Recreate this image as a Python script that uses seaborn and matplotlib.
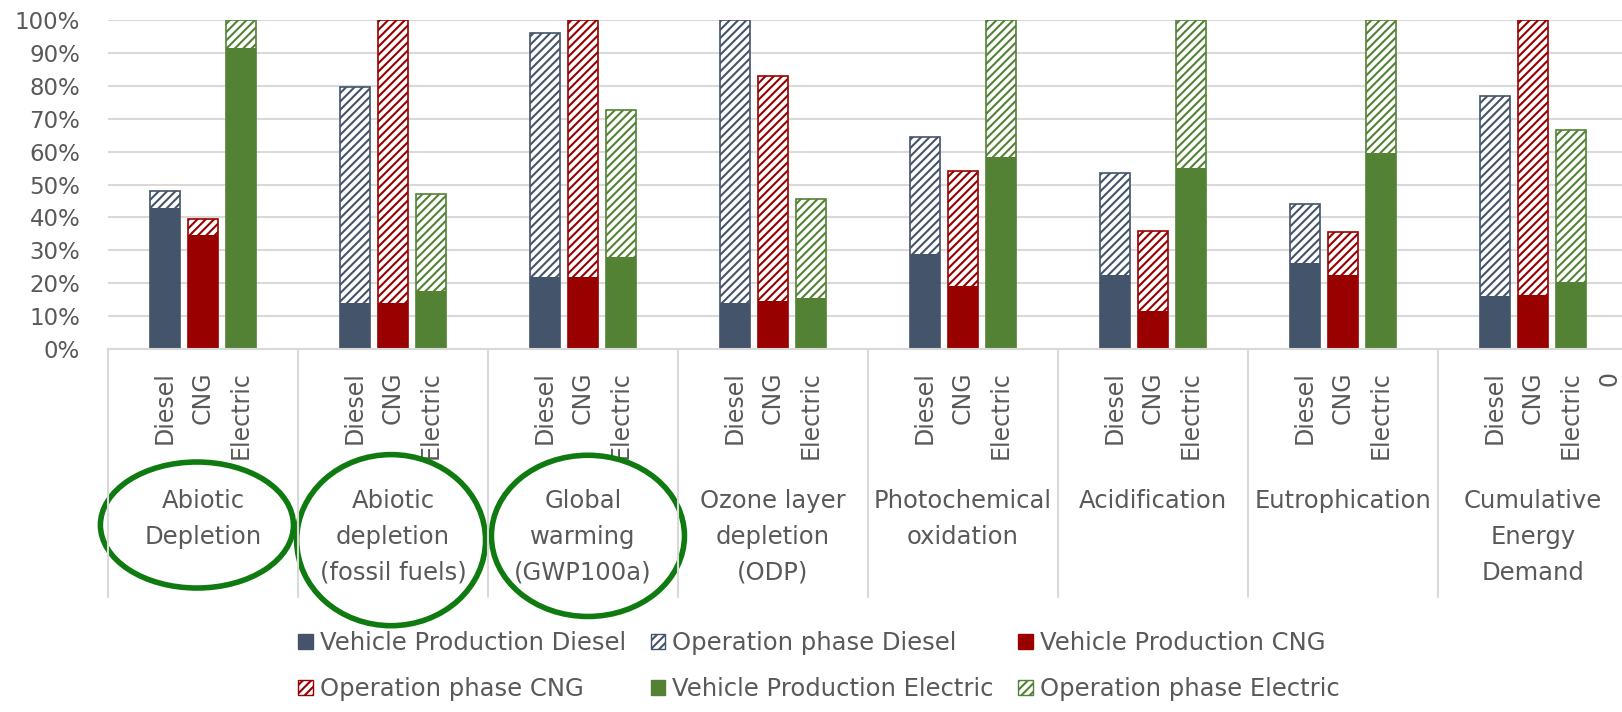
import pandas as pd
import matplotlib.pyplot as plt
import matplotlib.transforms as mtransforms
import seaborn as sns
from matplotlib.patches import Patch, Ellipse
from matplotlib.ticker import PercentFormatter

# impact categories (group labels) and vehicle types
impacts = ["Abiotic\nDepletion", "Abiotic\ndepletion\n(fossil fuels)", "Global\nwarming\n(GWP100a)",
           "Ozone layer\ndepletion\n(ODP)", "Photochemical\noxidation", "Acidification",
           "Eutrophication", "Cumulative\nEnergy\nDemand"]
vehicles = ["Diesel", "CNG", "Electric"]

# values in % of the highest vehicle per category
prod_diesel = [43, 14, 22, 14, 29, 22.5, 26, 16]
oper_diesel = [5, 65.5, 74, 86, 35.5, 31, 18, 61]
prod_cng = [34.5, 14, 22, 14.5, 19, 11.5, 22.5, 16.5]
oper_cng = [5, 86, 78, 68.5, 35, 24.5, 13, 83.5]
prod_elec = [91.5, 17.5, 28, 15.5, 58.5, 55, 59.5, 20.5]
oper_elec = [8.5, 29.5, 44.5, 30, 41.5, 45, 40.5, 46]

y_ticks = [0, 10, 20, 30, 40, 50, 60, 70, 80, 90, 100]

colors = {"Diesel": "#44546A", "CNG": "#990000", "Electric": "#548235"}
text_col = "#595959"

prod = {"Diesel": prod_diesel, "CNG": prod_cng, "Electric": prod_elec}
oper = {"Diesel": oper_diesel, "CNG": oper_cng, "Electric": oper_elec}

# each group takes 5 slots: blank, Diesel, CNG, Electric, blank
rows = []
for i, imp in enumerate(impacts):
    for j, v in enumerate(vehicles):
        rows.append({"pos": 5 * i + 1 + j, "vehicle": v,
                     "production": prod[v][i],
                     "total": prod[v][i] + oper[v][i]})
df = pd.DataFrame(rows)

sns.set_style("white")
plt.rcParams['font.family'] = ['DejaVu Sans']
plt.rcParams['hatch.linewidth'] = 1.5

fig = plt.figure(figsize=(16.22, 7.12), dpi=100)
ax = fig.add_axes([108 / 1622, 1 - 349 / 712, 1 - 108 / 1622, 329 / 712])

# operation phase = hatched part, drawn as full-height bar first
sns.barplot(data=df, x="pos", y="total", hue="vehicle", palette=colors, dodge=False,
            native_scale=True, width=0.79, errorbar=None, legend=False, saturation=1, ax=ax)
for p in ax.patches:
    c = p.get_facecolor()
    p.set_edgecolor(c)
    p.set_facecolor("white")
    p.set_hatch("////")
    p.set_linewidth(1.2)
n_hatch = len(ax.patches)

# vehicle production part on top
sns.barplot(data=df, x="pos", y="production", hue="vehicle", palette=colors, dodge=False,
            native_scale=True, width=0.79, errorbar=None, legend=False, saturation=1, ax=ax)
for p in ax.patches[n_hatch:]:
    p.set_linewidth(0)

ax.set_xlim(-0.5, (1622 - 108) / 38 - 0.5)
ax.set_ylim(0, 100)
ax.set_yticks(y_ticks)
ax.yaxis.set_major_formatter(PercentFormatter(decimals=0))
ax.yaxis.grid(True, color="#D9D9D9", lw=1.5)
ax.set_axisbelow(True)
for s in ["top", "right", "left"]:
    ax.spines[s].set_visible(False)
ax.spines["bottom"].set_color("#D9D9D9")
ax.spines["bottom"].set_linewidth(1.5)

xt = list(df["pos"]) + [5 * len(impacts) - 1]
xl = list(df["vehicle"]) + ["0"]
ax.set_xticks(xt)
ax.set_xticklabels(xl, rotation=90)
ax.tick_params(axis="x", length=0, pad=16, labelsize=17, labelcolor=text_col)
ax.tick_params(axis="y", length=0, pad=20, labelsize=16.5, labelcolor=text_col)
ax.set_xlabel("")
ax.set_ylabel("")

trans = mtransforms.blended_transform_factory(ax.transData, ax.transAxes)
for i, imp in enumerate(impacts):
    ax.plot([5 * i - 0.5, 5 * i - 0.5], [0, -0.754], color="#D9D9D9", lw=1.5,
            transform=trans, clip_on=False)
    ax.text(5 * i + 2, -0.425, imp, transform=trans, ha="center", va="top",
            multialignment="center", fontsize=17.5, color=text_col, linespacing=1.63)

# green circles around the first three categories
for cx, cy, w, h in [(1.84, -0.535, 5.08, 0.383), (6.95, -0.581, 4.97, 0.52),
                     (12.13, -0.568, 5.08, 0.49)]:
    ax.add_patch(Ellipse((cx, cy), w, h, transform=trans, fill=False,
                         edgecolor="#0f7a0f", lw=4, clip_on=False))

handles = []
labels = []
for v in vehicles:
    handles.append(Patch(facecolor=colors[v], edgecolor=colors[v]))
    labels.append("Vehicle Production " + v)
    handles.append(Patch(facecolor="white", edgecolor=colors[v], hatch="////"))
    labels.append("Operation phase " + v)
order = [0, 3, 1, 4, 2, 5]
leg = fig.legend([handles[k] for k in order], [labels[k] for k in order],
                 loc="center", bbox_to_anchor=(0.505, 0.0646), ncol=3, frameon=False,
                 fontsize=17.5, handlelength=0.6, handleheight=0.6, handletextpad=0.3,
                 columnspacing=1.0, labelspacing=0.9, labelcolor=text_col)

plt.savefig("out.png", dpi=100, facecolor="white")
